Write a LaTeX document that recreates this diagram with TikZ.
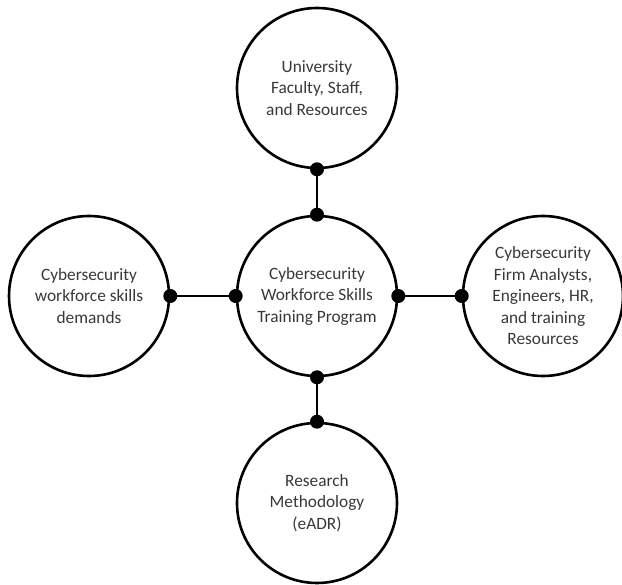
\documentclass[tikz,border=0pt]{standalone}
\usepackage{fontspec}
\setmainfont{Carlito}
\definecolor{txt}{HTML}{383838}
\begin{document}
\begin{tikzpicture}[x=1pt,y=1pt,
  bubble/.style={circle,draw=black,line width=2.6pt,minimum size=160pt,inner sep=0pt,align=center,text=txt,font=\fontsize{17.3}{21.5}\selectfont},
  link/.style={line width=1.4pt,draw=black},
  knot/.style={circle,fill=black,minimum size=14pt,inner sep=0pt}]
\useasboundingbox (0,0) rectangle (622,-585);
\node[bubble] (c) at (317,-296) {Cybersecurity\\Workforce Skills\\Training Program};
\node[bubble] (t) at (317,-88) {University\\Faculty, Staff,\\and Resources};
\node[bubble] (l) at (89,-296) {Cybersecurity\\workforce skills\\demands};
\node[bubble] (r) at (543,-296) {Cybersecurity\\Firm Analysts,\\Engineers, HR,\\and training\\Resources};
\node[bubble] (b) at (317,-503) {Research\\Methodology\\(eADR)};
\draw[link] (t.south) -- (c.north);
\draw[link] (c.south) -- (b.north);
\draw[link] (l.east) -- (c.west);
\draw[link] (c.east) -- (r.west);
\foreach \p in {t.south,c.north,c.south,b.north,l.east,c.west,c.east,r.west}
  \node[knot] at (\p) {};
\end{tikzpicture}
\end{document}
